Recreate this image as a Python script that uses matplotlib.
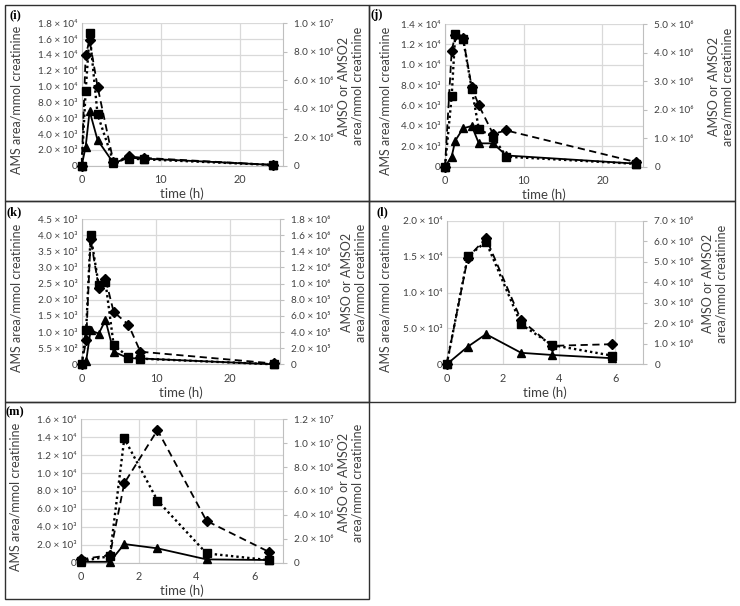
import matplotlib
matplotlib.use("Agg")
import matplotlib.pyplot as plt
from matplotlib.patches import Rectangle

plt.rcParams['font.family'] = ['Lato', 'DejaVu Sans']

# ── Data ──────────────────────────────────────
t_i = [0, 0.5, 1, 2, 4, 6, 7.8, 24.2]
ams_i = [0, 2400, 6900, 3250, 350, 1000, 900, 100]
amso_i = [0, 5.25e6, 9.3e6, 3.6e6, 2.8e5, 5.0e5, 4.5e5, 5e4]
amso2_i = [0, 7.8e6, 8.8e6, 5.55e6, 2.8e5, 6.5e5, 5.5e5, 5e4]

t_j = [0, 0.85, 1.3, 2.3, 3.4, 4.3, 6.1, 7.8, 24.3]
ams_j = [0, 1000, 2550, 3760, 4000, 2290, 2290, 1100, 300]
amso_j = [0, 2.48e6, 4.64e6, 4.48e6, 2.72e6, 1.32e6, 1.04e6, 3.5e5, 1.0e5]
amso2_j = [0, 4.07e6, 4.6e6, 4.5e6, 2.78e6, 2.15e6, 1.15e6, 1.27e6, 1.6e5]

t_k = [0, 0.6, 1.2, 2.3, 3.2, 4.3, 6.3, 7.9, 25.9]
ams_k = [0, 100, 1050, 950, 1370, 390, 190, 180, 0]
amso_k = [0, 4.3e5, 1.6e6, 9.8e5, 1.02e6, 2.4e5, 9e4, 7e4, 0]
amso2_k = [0, 3.0e5, 1.55e6, 9.5e5, 1.06e6, 6.5e5, 4.9e5, 1.56e5, 1e4]

t_l = [0, 0.75, 1.4, 2.65, 3.75, 5.9]
ams_l = [0, 2450, 4200, 1600, 1300, 850]
amso_l = [0, 5.26e6, 5.97e6, 1.95e6, 9.4e5, 4.2e5]
amso2_l = [0, 5.2e6, 6.15e6, 2.15e6, 9.0e5, 9.8e5]

t_m = [0, 1.0, 1.5, 2.65, 4.35, 6.5]
ams_m = [100, 100, 2080, 1600, 370, 300]
amso_m = [1.2e5, 5.5e5, 1.04e7, 5.2e6, 7.8e5, 2.2e5]
amso2_m = [2.8e5, 6.4e5, 6.65e6, 1.11e7, 3.5e6, 9.2e5]

# axis ticks
xt_long = [0, 10, 20]
xt_short = [0, 2, 4, 6]
lt_i = [0, 2e3, 4e3, 6e3, 8e3, 1e4, 1.2e4, 1.4e4, 1.6e4, 1.8e4]
rt_i = [0, 2e6, 4e6, 6e6, 8e6, 1e7]
lt_j = [0, 2e3, 4e3, 6e3, 8e3, 1e4, 1.2e4, 1.4e4]
rt_j = [0, 1e6, 2e6, 3e6, 4e6, 5e6]
lt_k = [0, 500, 1000, 1500, 2000, 2500, 3000, 3500, 4000, 4500]
rt_k = [0, 2e5, 4e5, 6e5, 8e5, 1e6, 1.2e6, 1.4e6, 1.6e6, 1.8e6]
lt_l = [0, 5e3, 1e4, 1.5e4, 2e4]
rt_l = [0, 1e6, 2e6, 3e6, 4e6, 5e6, 6e6, 7e6]
lt_m = [0, 2e3, 4e3, 6e3, 8e3, 1e4, 1.2e4, 1.4e4, 1.6e4]
rt_m = [0, 2e6, 4e6, 6e6, 8e6, 1e7, 1.2e7]

SUP = str.maketrans("0123456789", "⁰¹²³⁴⁵⁶⁷⁸⁹")
GRID = "#d9d9d9"
AXC = "#bfbfbf"
TXT = "#404040"
W, H = 740, 606


def sci(v):
    if v == 0:
        return "0"
    e = 0
    m = v
    while m >= 10:
        m /= 10
        e += 1
    while m < 1:
        m *= 10
        e -= 1
    return f"{m:.1f} × 10" + str(e).translate(SUP)


def px_rect(x0, y0, x1, y1):
    # pixel box (top-left origin) -> figure fraction rect
    return [x0 / W, 1 - y1 / H, (x1 - x0) / W, (y1 - y0) / H]


fig = plt.figure(figsize=(7.4, 6.06), dpi=100)

# panel frames
for (x0, y0, x1, y1) in [(5, 5, 369, 201), (369, 5, 735, 201),
                         (5, 201, 369, 402), (369, 201, 735, 402),
                         (5, 402, 369, 599)]:
    fig.add_artist(Rectangle((x0 / W, 1 - y1 / H), (x1 - x0) / W, (y1 - y0) / H,
                             transform=fig.transFigure, fill=False,
                             edgecolor="#303030", linewidth=1.0))

panels = [
    dict(tag="(i)", tagpos=(15, 15), box=(81.7, 23.3, 283, 165.7), t=t_i, a=ams_i, s=amso_i, d=amso2_i,
         xmax=25.4, xt=xt_long, lt=lt_i, rt=rt_i, llx=17, rlx=1.335),
    dict(tag="(j)", tagpos=(377, 15), box=(445, 24, 643.3, 166.7), t=t_j, a=ams_j, s=amso_j, d=amso2_j,
         xmax=25.2, xt=xt_long, lt=lt_j, rt=rt_j, llx=385, rlx=1.39),
    dict(tag="(k)", tagpos=(14, 212), box=(81.7, 219, 280, 364.3), t=t_k, a=ams_k, s=amso_k, d=amso2_k,
         xmax=26.7, xt=xt_long, lt=lt_k, rt=rt_k, llx=17, rlx=1.37),
    dict(tag="(l)", tagpos=(382, 212), box=(446.7, 220.7, 643.3, 364.3), t=t_l, a=ams_l, s=amso_l, d=amso2_l,
         xmax=7, xt=xt_short, lt=lt_l, rt=rt_l, llx=385, rlx=1.364),
    dict(tag="(m)", tagpos=(15, 412), box=(81, 419.3, 283, 562.7), t=t_m, a=ams_m, s=amso_m, d=amso2_m,
         xmax=7, xt=xt_short, lt=lt_m, rt=rt_m, llx=16, rlx=1.334),
]

for p in panels:
    ax = fig.add_axes(px_rect(*p["box"]))
    ax2 = ax.twinx()
    bw = p["box"][2] - p["box"][0]
    bh = p["box"][3] - p["box"][1]

    ax.plot(p["t"], p["a"], color="black", linestyle="-", linewidth=1.3,
            marker="^", markersize=6, clip_on=False, zorder=3)
    ax2.plot(p["t"], p["d"], color="black", linestyle=(0, (4, 2.5)), linewidth=1.3,
             marker="D", markersize=5, clip_on=False, zorder=3)
    ax2.plot(p["t"], p["s"], color="black", linestyle=(0, (1, 1.3)), linewidth=1.7,
             marker="s", markersize=6, clip_on=False, zorder=4)

    ax.set_xlim(0, p["xmax"])
    ax.set_ylim(0, p["lt"][-1])
    ax2.set_ylim(0, p["rt"][-1])

    ax.set_xticks(p["xt"])
    ax.set_xticklabels([str(v) for v in p["xt"]])
    ax.set_yticks(p["lt"])
    llabels = [sci(v) for v in p["lt"]]
    if p["tag"] == "(k)":
        llabels[1] = "5.5 × 10²"
    ax.set_yticklabels(llabels)
    ax2.set_yticks(p["rt"])
    ax2.set_yticklabels([sci(v) for v in p["rt"]])

    ax.grid(True, color=GRID, linewidth=0.9)
    ax.set_axisbelow(True)
    for side in ["top", "right"]:
        ax.spines[side].set_visible(False)
    for side in ["top", "left", "bottom"]:
        ax2.spines[side].set_visible(False)
    ax.spines["left"].set_color(AXC)
    ax.spines["bottom"].set_color(AXC)
    ax2.spines["right"].set_color(AXC)

    ax.tick_params(axis="y", length=0, pad=3, labelsize=7.2, labelcolor=TXT)
    ax.tick_params(axis="x", length=0, pad=6, labelsize=7.8, labelcolor=TXT)
    ax2.tick_params(axis="y", length=3, width=0.8, color=AXC, direction="out",
                    pad=5, labelsize=7.2, labelcolor=TXT)

    ax.set_xlabel("time (h)", fontsize=9.5, color=TXT)
    ax.xaxis.set_label_coords(0.5, -28 / bh)
    ax.xaxis.label.set_verticalalignment("center")

    ax.set_ylabel("AMS area/mmol creatinine", fontsize=9, color=TXT)
    ax.yaxis.set_label_coords((p["llx"] - p["box"][0]) / bw, 0.46)
    ax.yaxis.label.set_verticalalignment("center")

    ax2.set_ylabel("AMSO or AMSO2\narea/mmol creatinine", fontsize=9, color=TXT,
                   rotation=90, linespacing=1.15)
    ax2.yaxis.set_label_coords(p["rlx"], 0.56)
    ax2.yaxis.label.set_verticalalignment("center")

    fig.text(p["tagpos"][0] / W, 1 - p["tagpos"][1] / H, p["tag"],
             family="Liberation Serif", fontweight="bold", fontsize=9,
             ha="center", va="center", color="black")

fig.savefig("out.png", dpi=100, facecolor="white")
